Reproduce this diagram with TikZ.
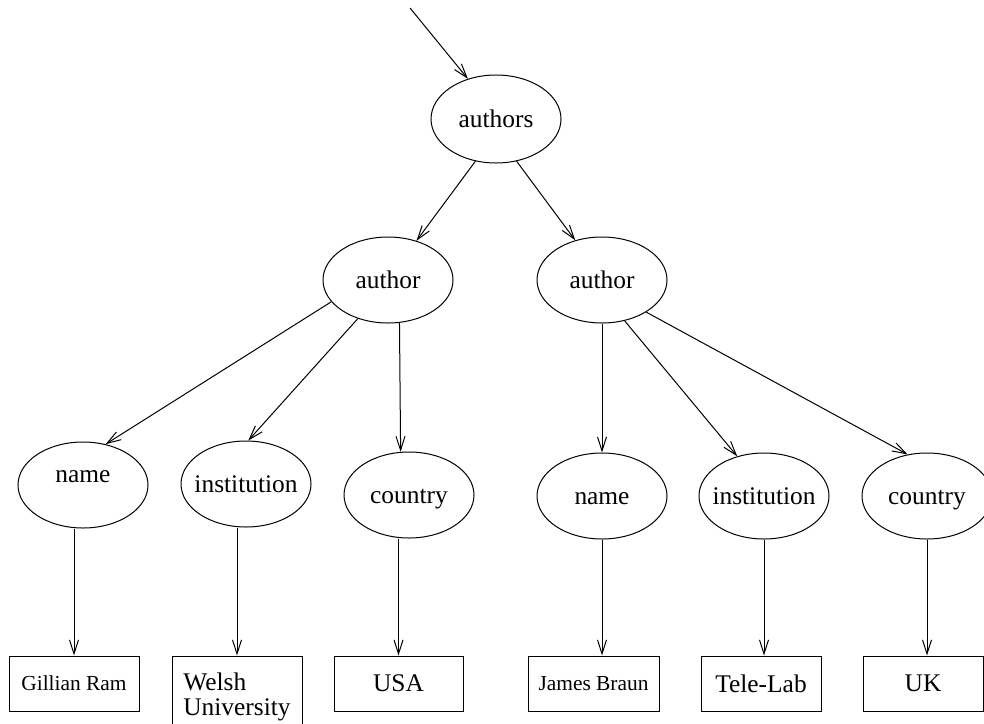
\documentclass[tikz,border=0pt]{standalone}
\usepackage{fontspec}
\setmainfont{Liberation Serif}
\usetikzlibrary{shapes.geometric,arrows.meta}
% zero-width box so the ellipse size is set only by its minimum size
\newcommand\ctext[1]{\makebox[0pt]{#1}}
\begin{document}
\begin{tikzpicture}[x=0.5pt,y=-0.5pt,line width=0.5pt,
  tag/.style={ellipse, draw, minimum width=65pt, minimum height=43pt,
    inner sep=0pt, text height=8.7pt, text depth=0pt,
    font=\fontsize{12.7}{15}\selectfont},
  leaf/.style={rectangle, draw, inner sep=0pt, minimum height=27.5pt,
    font=\fontsize{12.7}{12.5}\selectfont},
  small/.style={font=\fontsize{10.7}{12}\selectfont},
  edge/.style={-{Straight Barb[length=7pt,width=4.5pt]}},
]
\useasboundingbox (0,0) rectangle (984,723);
\clip (0,0) rectangle (984,723);

% element nodes
\node[tag, minimum height=44pt] (authors) at (496,119) {\ctext{authors}};
\node[tag] (authorL) at (388,280) {\ctext{author}};
\node[tag] (authorR) at (602,280) {\ctext{author}};
\node[tag] (nameL)    at (83,485)  {\ctext{\raisebox{5.5pt}{name}}};
\node[tag] (instL)    at (246,484) {\ctext{institution}};
\node[tag] (countryL) at (409,495) {\ctext{country}};
\node[tag] (nameR)    at (602,496) {\ctext{name}};
\node[tag] (instR)    at (764,496) {\ctext{institution}};
\node[tag] (countryR) at (927,496) {\ctext{country}};

% text values
\node[leaf, small, minimum width=65pt]   (gillian) at (74,683.5)  {Gillian Ram};
\node[leaf, minimum width=65pt, minimum height=40.5pt, align=left] (welsh) at (237,696.5) {Welsh\\University};
\node[leaf, minimum width=64.5pt] (usa)   at (398.5,683.5) {USA};
\node[leaf, small, minimum width=65.5pt] (james) at (593.5,683.5) {James Braun};
\node[leaf, minimum width=60pt]   (tele)  at (761,683.5) {Tele-Lab};
\node[leaf, minimum width=60pt]   (uk)    at (923,683.5) {UK};

% entry edge
\coordinate (entry) at (410,8);
\draw[edge] (entry) -- (authors.125);

% element edges
\draw[edge] (authors.244)   -- (authorL.54);
\draw[edge] (authors.296.6) -- (authorR.124);
\draw[edge] (authorL.201.4) -- (nameL.61.4);
\draw[edge] (authorL.232.5) -- (instL.87);
\draw[edge] (authorL.285.6) -- (countryL.101.8);
\draw[edge] (authorR) -- (nameR);
\draw[edge] (authorR.299)   -- (instR.124.9);
\draw[edge] (authorR.324.6) -- (countryR.115);

% value edges
\draw[edge] (nameL.south -| gillian) -- (gillian);
\draw[edge] (instL.south -| welsh) -- (welsh.north);
\draw[edge] (countryL.south -| usa) -- (usa);
\draw[edge] (nameR) -- (nameR |- james.north);
\draw[edge] (instR) -- (instR |- tele.north);
\draw[edge] (countryR) -- (countryR |- uk.north);
\end{tikzpicture}
\end{document}
